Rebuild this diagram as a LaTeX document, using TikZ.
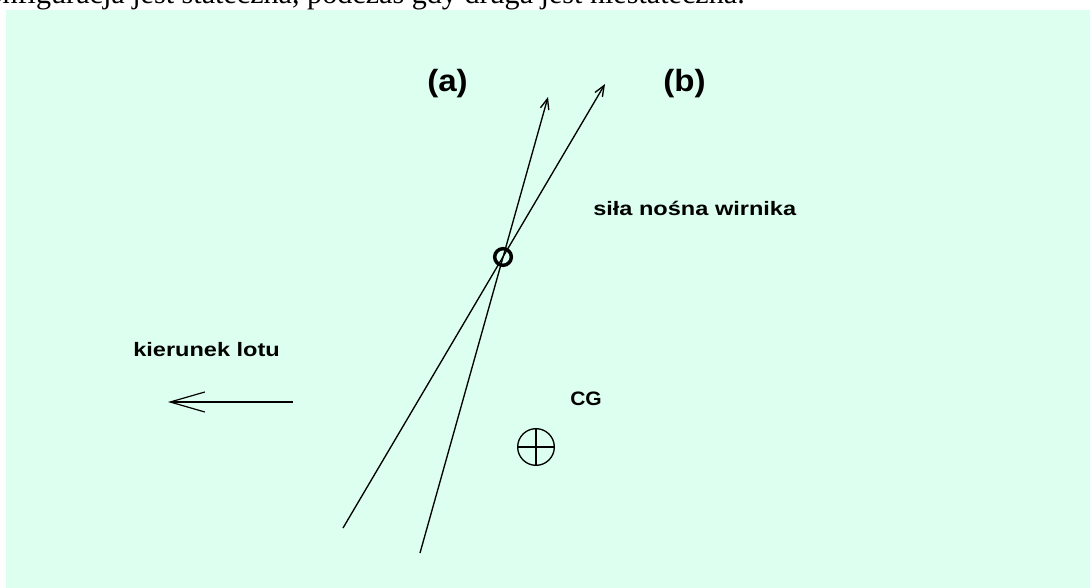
\documentclass[tikz,border=0pt]{standalone}
\usepackage{fontspec}
\setmainfont{Liberation Serif}
\newfontfamily\lblfont{Liberation Sans}
\usetikzlibrary{arrows.meta}
\definecolor{bgmint}{RGB}{220,255,240}
\tikzset{
  lbl/.style={font=\lblfont\bfseries\fontsize{14.6pt}{17pt}\selectfont, inner sep=0pt, text=black},
  biglbl/.style={font=\lblfont\bfseries\fontsize{23pt}{26pt}\selectfont, inner sep=0pt, text=black},
  forceline/.style={line width=1pt, -{Straight Barb[length=8pt,width=6.5pt,line width=1pt]}},
  flightline/.style={line width=0.9pt, -{Straight Barb[length=26pt,width=15pt,line width=0.9pt]}},
  thin/.style={line width=1pt}
}
\begin{document}
\begin{tikzpicture}[x=0.75pt,y=-0.75pt]
\useasboundingbox (0,0) rectangle (1090,588);
\clip (0,0) rectangle (1090,588);
% caption text cut off at the top
\node[anchor=base east, inner sep=0pt, font=\fontsize{22.6pt}{26pt}\selectfont] (cap) at (745,4) {Konfiguracja jest stateczna, podczas gdy druga jest niestateczna.};
% background panel
\fill[bgmint] (6,10) rectangle (1090,588);
% labels
\node[biglbl, anchor=base west] (la) at (427,92) {\scalebox{1.08}[1]{(a)}};
\node[biglbl, anchor=base west] (lb) at (663,92) {\scalebox{1.08}[1]{(b)}};
\node[lbl, anchor=base west] (lift) at (593,216) {\scalebox{1.21}[1]{siła nośna wirnika}};
\node[lbl, anchor=base west] (dir) at (133,357) {\scalebox{1.21}[1]{kierunek lotu}};
\node[lbl, anchor=base west] (cg) at (570,405) {\scalebox{1.08}[1]{CG}};
% force lines
\coordinate (a0) at (420,553);
\coordinate (a1) at (548,97);
\coordinate (b0) at (343,528);
\coordinate (b1) at (605,84);
\draw[forceline] (a0) -- (a1);
\draw[forceline] (b0) -- (b1);
% rotor hub
\node[circle, draw, line width=2.6pt, minimum size=12.5pt, inner sep=0pt] (hub) at (503,257) {};
% flight direction arrow
\coordinate (f0) at (293,402);
\coordinate (f1) at (168,402);
\draw[flightline] (f0) -- (f1);
% centre of gravity symbol
\node[circle, draw, thin, minimum size=27.5pt, inner sep=0pt] (cgsym) at (536,447) {};
\draw[thin] (cgsym.north) -- (cgsym.south);
\draw[thin] (cgsym.west) -- (cgsym.east);
\end{tikzpicture}
\end{document}
